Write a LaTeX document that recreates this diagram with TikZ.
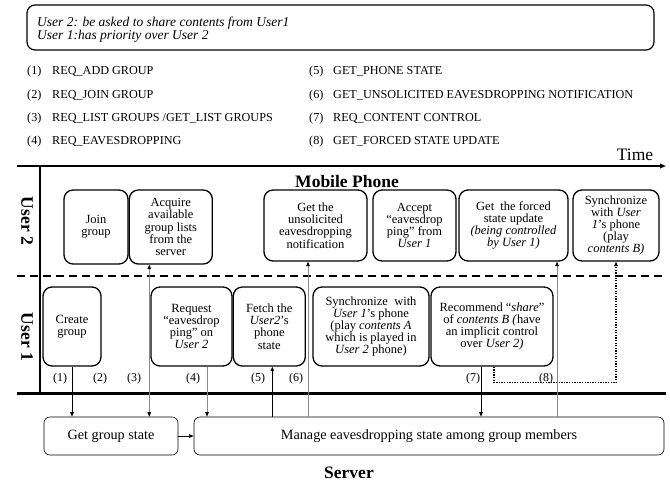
\documentclass[tikz,border=0pt]{standalone}
\usepackage{fontspec}
\setmainfont{Liberation Serif}
\usepackage{tikz}
\usetikzlibrary{arrows.meta,positioning}
\definecolor{msggray}{HTML}{8A8A8A}

\begin{document}
\begin{tikzpicture}[x=1pt, y=-1pt,
  >={Triangle[length=4.5pt,width=3.5pt,color=black]},
  phase/.style={rectangle, draw, line width=1.3pt, rounded corners=9pt,
    align=center, inner sep=1pt, font=\fontsize{12.5}{12.2}\selectfont},
  srv/.style={rectangle, draw, line width=0.6pt, rounded corners=6pt,
    minimum height=38pt, font=\fontsize{14.2}{16}\selectfont},
  req/.style={anchor=west, inner sep=0pt, font=\fontsize{12.2}{14}\selectfont},
  num/.style={inner sep=0pt, font=\fontsize{12}{14}\selectfont},
  lane/.style={inner sep=0pt, font=\fontsize{17.5}{20}\selectfont\bfseries},
  msg/.style={draw=msggray, line width=0.8pt},
  sig/.style={draw, line width=0.8pt},
]
  \useasboundingbox (0,0) rectangle (670,485);

  % scenario
  \node[rectangle, draw, line width=1.2pt, rounded corners=8pt, minimum width=627pt,
    minimum height=45pt] (scene) at (340.5,27.5) {};
  \node[anchor=west, inner sep=0pt, align=left,
    font=\fontsize{13.5}{13.3}\selectfont\itshape] (scenetext) at (37,29.5)
    {User 2: be asked to share contents from User1\\User 1:has priority over User 2};

  % message list
  \node[req] (r1) at (27,72) {\makebox[25pt][l]{(1)}REQ\_ADD GROUP};
  \node[req] (r2) at (27,96) {\makebox[25pt][l]{(2)}REQ\_JOIN GROUP};
  \node[req] (r3) at (27,119) {\makebox[25pt][l]{(3)}REQ\_LIST GROUPS /GET\_LIST GROUPS};
  \node[req] (r4) at (27,142) {\makebox[25pt][l]{(4)}REQ\_EAVESDROPPING};
  \node[req] (r5) at (309,72) {\makebox[24pt][l]{(5)}GET\_PHONE STATE};
  \node[req] (r6) at (309,96) {\makebox[24pt][l]{(6)}GET\_UNSOLICITED EAVESDROPPING NOTIFICATION};
  \node[req] (r7) at (309,119) {\makebox[24pt][l]{(7)}REQ\_CONTENT CONTROL};
  \node[req] (r8) at (309,142) {\makebox[24pt][l]{(8)}GET\_FORCED STATE UPDATE};

  % lanes
  \draw[line width=1.5pt, -{Triangle[length=6pt,width=4.5pt]}] (17,166) -- (666,166);
  \node[inner sep=0pt, font=\fontsize{17.5}{20}\selectfont] (time) at (635,155) {Time};
  \draw[line width=2.5pt] (40,166) -- (40,393);
  \draw[line width=2pt, dash pattern=on 8pt off 5pt] (17,276) -- (666,276);
  \draw[line width=3pt] (17,393) -- (666,393);
  \node[lane, rotate=-90] (u2) at (27,221) {User 2};
  \node[lane, rotate=-90] (u1) at (27,337) {User 1};
  \node[lane] (phone) at (347,182) {Mobile Phone};
  \node[lane] (server) at (349,473) {Server};

  % user 2
  \node[phase, minimum width=64pt, minimum height=74pt] (join) at (96,227) {Join\\group};
  \node[phase, minimum width=83pt, minimum height=74pt, right=0pt of join] (acquire)
    {Acquire\\available\\group lists\\from the\\server};
  \node[phase, minimum width=103pt, minimum height=71pt] (unsol) at (315.5,225.5)
    {Get the\\unsolicited\\eavesdropping\\notification};
  \node[phase, minimum width=83pt, minimum height=71pt] (accept) at (414.5,225.5)
    {Accept\\“eavesdrop\\ping” from\\\textit{User 1}};
  \node[phase, minimum width=109pt, minimum height=71pt] (forced) at (513.5,225.5)
    {Get \ the forced\\state update\\\textit{(being controlled}\\\textit{by User 1)}};
  \node[phase, minimum width=86pt, minimum height=71pt] (syncB) at (616,225.5)
    {Synchronize\\with \textit{User}\\\textit{1}’s phone\\(play\\\textit{contents B)}};

  % user 1
  \node[phase, minimum width=58pt, minimum height=79pt] (create) at (72,326.5) {Create\\group};
  \node[phase, minimum width=81pt, minimum height=79pt] (request) at (191.5,326.5)
    {Request\\“eavesdrop\\ping” on\\\textit{User 2}};
  \node[phase, minimum width=72pt, minimum height=79pt, right=0pt of request] (fetch)
    {Fetch the\\\textit{User2}’s\\phone\\state};
  \node[phase, minimum width=116pt, minimum height=79pt] (syncA) at (371,326.5)
    {Synchronize \ with\\\textit{User 1}’s phone\\(play \textit{contents A}\\which is played in\\\textit{User 2} phone)};
  \node[phase, minimum width=122pt, minimum height=79pt] (recommend) at (492,326.5)
    {Recommend “\textit{share}”\\of \textit{contents B (}have\\an implicit control\\over \textit{User 2)}};

  % server
  \node[srv, minimum width=134pt] (getstate) at (111,436) {Get group state};
  \node[srv, minimum width=470pt] (manage) at (429,436)
    {Manage eavesdropping state among group members};

  % message numbers
  \node[num] (n1) at (60,379) {(1)};
  \node[num] (n2) at (100,379) {(2)};
  \node[num] (n3) at (134,379) {(3)};
  \node[num] (n4) at (193,379) {(4)};
  \node[num] (n5) at (258,379) {(5)};
  \node[num] (n6) at (296,379) {(6)};
  \node[num] (n7) at (473,379) {(7)};
  \node[num] (n8) at (546,379) {(8)};

  % messages
  \draw[sig, ->] (create.south) -- (create.south |- getstate.north);
  \draw[msg, <->] ([xshift=-21.5pt]acquire.south) -- ([xshift=-21.5pt]acquire.south |- getstate.north);
  \draw[msg, ->] ([xshift=15.5pt]request.south) -- ([xshift=15.5pt]request.south |- manage.north);
  \draw[sig, ->] ([xshift=3pt]fetch.south |- manage.north) -- ([xshift=3pt]fetch.south);
  \draw[msg, ->] ([xshift=-7.5pt]unsol.south |- manage.north) -- ([xshift=-7.5pt]unsol.south);
  \draw[sig, ->] ([xshift=-11pt]recommend.south) -- ([xshift=-11pt]recommend.south |- manage.north);
  \draw[msg, ->] ([xshift=43.5pt]forced.south |- manage.north) -- ([xshift=43.5pt]forced.south);
  \draw[line width=1.3pt, dash pattern=on 1.3pt off 1.3pt, ->] ([xshift=2pt]recommend.south)
    -- ++(0,16) -| (syncB.south);
  \draw[sig, ->] (getstate) -- (manage);
\end{tikzpicture}
\end{document}
